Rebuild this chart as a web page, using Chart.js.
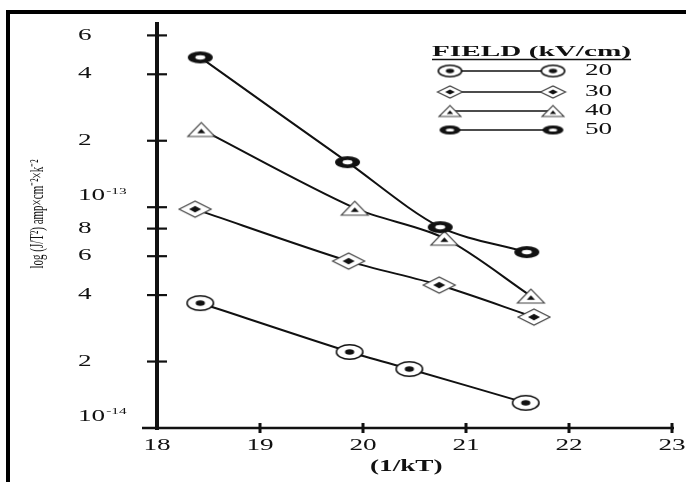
<!DOCTYPE html>
<html>
<head>
<meta charset="utf-8">
<title>log(J/T²) vs 1/kT</title>
<script src="https://cdn.jsdelivr.net/npm/chart.js@4.4.1/dist/chart.umd.min.js"></script>
<style>
  html, body { margin: 0; padding: 0; background: #ffffff; }
  #wrap { width: 686px; height: 482px; }
</style>
</head>
<body>
<div id="wrap"><canvas id="chart" width="686" height="482"></canvas></div>
<script>
// ---- data: log(J/T²) against 1/kT for four applied fields ----
const fieldLabels = ['20', '30', '40', '50'];

const invKT20 = [18.42, 19.87, 20.45, 21.58];
const current20 = [3.68e-14, 2.21e-14, 1.85e-14, 1.30e-14];

const invKT30 = [18.37, 19.86, 20.74, 21.66];
const current30 = [9.8e-14, 5.7e-14, 4.44e-14, 3.18e-14];

const invKT40 = [18.43, 19.92, 20.79, 21.63];
const current40 = [2.25e-13, 9.9e-14, 7.24e-14, 3.96e-14];

const invKT50 = [18.42, 19.85, 20.75, 21.59];
const current50 = [4.77e-13, 1.60e-13, 8.12e-14, 6.26e-14];

// ---- axis ticks and titles ----
const xTickValues = [18, 19, 20, 21, 22, 23];
const xTickLabels = ['18', '19', '20', '21', '22', '23'];
const yTickValues = [1e-14, 2e-14, 4e-14, 6e-14, 8e-14, 1e-13, 2e-13, 4e-13, 6e-13];
const yTickMantissas = ['10', '2', '4', '6', '8', '10', '2', '4', '6'];
const yTickExponents = ['-14', '', '', '', '', '-13', '', '', ''];
const xTitle = '(1/kT)';
const yTitle = 'log (J/T²) amp×cm⁻²×k⁻²';
const legendTitle = 'FIELD (kV/cm)';

const SERIF = '"Liberation Serif", "Times New Roman", serif';
const INK = '#111111';
const STRETCH = 1.7;   // the whole figure is typeset wide

// ---- marker sprites ----
function sprite(w, h, paint) {
  const c = document.createElement('canvas');
  c.width = w + 4; c.height = h + 4;
  const g = c.getContext('2d');
  g.translate(c.width / 2, c.height / 2);
  paint(g, w / 2, h / 2);
  return c;
}
function ellipse(g, rx, ry) { g.beginPath(); g.ellipse(0, 0, rx, ry, 0, 0, Math.PI * 2); }

function dotCircle(w, h) {
  return sprite(w, h, (g, rx, ry) => {
    ellipse(g, rx - 0.8, ry - 0.8); g.fillStyle = '#fff'; g.fill();
    g.lineWidth = 1.6; g.strokeStyle = INK; g.stroke();
    ellipse(g, rx * 0.33, ry * 0.33); g.fillStyle = INK; g.fill();
  });
}
function dotDiamond(w, h) {
  return sprite(w, h, (g, rx, ry) => {
    g.beginPath(); g.moveTo(-rx, 0); g.lineTo(0, -ry); g.lineTo(rx, 0); g.lineTo(0, ry); g.closePath();
    g.fillStyle = '#fff'; g.fill(); g.lineWidth = 1.2; g.strokeStyle = '#444'; g.stroke();
    const a = rx * 0.38, b = ry * 0.42;
    g.beginPath(); g.moveTo(-a, 0); g.lineTo(0, -b); g.lineTo(a, 0); g.lineTo(0, b); g.closePath();
    g.fillStyle = INK; g.fill();
  });
}
function dotTriangle(w, h) {
  return sprite(w, h, (g, rx, ry) => {
    g.beginPath(); g.moveTo(-rx, ry); g.lineTo(0, -ry); g.lineTo(rx, ry); g.closePath();
    g.fillStyle = '#fff'; g.fill(); g.lineWidth = 1.1; g.strokeStyle = '#444'; g.stroke();
    g.beginPath(); g.moveTo(-rx * 0.3, ry * 0.55); g.lineTo(0, -ry * 0.1); g.lineTo(rx * 0.3, ry * 0.55); g.closePath();
    g.fillStyle = INK; g.fill();
  });
}
function boldRing(w, h) {
  return sprite(w, h, (g, rx, ry) => {
    ellipse(g, rx, ry); g.fillStyle = INK; g.fill();
    ellipse(g, rx * 0.4, ry * 0.36); g.fillStyle = '#fff'; g.fill();
  });
}

const plotMarkers = [dotCircle(28, 16), dotDiamond(32, 16), dotTriangle(27, 14), boldRing(25, 12)];
const legendMarkers = [dotCircle(25, 13), dotDiamond(25, 12), dotTriangle(22, 11), boldRing(21, 9)];

// ---- text helper (horizontally stretched serif) ----
function wideText(ctx, str, x, y, size, opt = {}) {
  const sx = opt.sx || STRETCH;
  ctx.save();
  ctx.font = (opt.bold ? 'bold ' : '') + size + 'px ' + SERIF;
  ctx.textBaseline = 'middle';
  ctx.textAlign = 'left';
  const w = ctx.measureText(str).width * sx;
  let left = x;
  if (opt.align === 'center') left = x - w / 2;
  else if (opt.align === 'right') left = x - w;
  ctx.translate(left, y);
  ctx.scale(sx, 1);
  ctx.fillStyle = INK;
  ctx.fillText(str, 0, 0);
  ctx.restore();
  return { left, width: w };
}

// ---- frame, axes, ticks and titles ----
const axesPlugin = {
  id: 'axesPlugin',
  beforeDatasetsDraw(chart) {
    const { ctx, scales: { x, y } } = chart;
    const x0 = x.getPixelForValue(18);
    const y0 = y.getPixelForValue(1e-14);
    ctx.save();
    ctx.fillStyle = '#000';
    // outer frame (top and left edges)
    ctx.fillRect(6, 10, 686, 4);
    ctx.fillRect(6, 10, 4, 482);

    ctx.strokeStyle = INK;
    ctx.lineCap = 'butt';
    // vertical axis
    ctx.lineWidth = 4;
    ctx.beginPath(); ctx.moveTo(x0, chart.chartArea.top); ctx.lineTo(x0, y0 + 2); ctx.stroke();
    // horizontal axis
    ctx.lineWidth = 2.5;
    ctx.beginPath(); ctx.moveTo(x0 - 15, y0); ctx.lineTo(x.getPixelForValue(23) + 2, y0); ctx.stroke();

    // y ticks cross the axis
    ctx.lineWidth = 2.2;
    yTickValues.forEach((v, i) => {
      const py = y.getPixelForValue(v);
      if (i > 0) { ctx.beginPath(); ctx.moveTo(x0 - 10, py); ctx.lineTo(x0 + 10, py); ctx.stroke(); }
      const isPow = yTickExponents[i] !== '';
      const ly = isPow ? py - 11 : py;
      const m = wideText(ctx, yTickMantissas[i], 78, ly, 16);
      if (isPow) wideText(ctx, yTickExponents[i], m.left + m.width + 1, ly - 5, 9);
    });

    // x ticks
    ctx.lineWidth = 3;
    xTickValues.forEach((v, i) => {
      const px = x.getPixelForValue(v);
      if (i > 0) { ctx.beginPath(); ctx.moveTo(px, y0 - 5); ctx.lineTo(px, y0 + 5); ctx.stroke(); }
      wideText(ctx, xTickLabels[i], px, y0 + 18, 16, { align: 'center' });
    });

    // axis titles
    wideText(ctx, xTitle, x.getPixelForValue(20.42), y0 + 39, 16, { align: 'center', bold: true });

    ctx.save();
    ctx.translate(38, 214);
    ctx.rotate(-Math.PI / 2);
    ctx.scale(1, STRETCH);
    ctx.font = '11px ' + SERIF;
    ctx.textAlign = 'center';
    ctx.textBaseline = 'middle';
    ctx.fillStyle = INK;
    ctx.fillText(yTitle, 0, 0);
    ctx.restore();

    ctx.restore();
  },
  afterDatasetsDraw(chart) {
    const { ctx } = chart;
    ctx.save();
    // legend heading, underlined
    const t = wideText(ctx, legendTitle, 432, 52, 15, { bold: true, sx: 1.95 });
    ctx.strokeStyle = INK; ctx.lineWidth = 1.3;
    ctx.beginPath(); ctx.moveTo(t.left, 59.5); ctx.lineTo(t.left + t.width, 59.5); ctx.stroke();

    const rows = [71, 92, 111, 130];
    chart.data.datasets.forEach((ds, i) => {
      const ry = rows[i];
      const xa = 450, xb = 553;
      ctx.strokeStyle = INK; ctx.lineWidth = 1.5;
      ctx.beginPath(); ctx.moveTo(xa, ry); ctx.lineTo(xb, ry); ctx.stroke();
      const mk = legendMarkers[i];
      ctx.drawImage(mk, xa - mk.width / 2, ry - mk.height / 2);
      ctx.drawImage(mk, xb - mk.width / 2, ry - mk.height / 2);
      wideText(ctx, ds.label, 585, ry, 16);
    });
    ctx.restore();
  }
};

function series(xs, ys) { return xs.map((v, i) => ({ x: v, y: ys[i] })); }

const seriesX = [invKT20, invKT30, invKT40, invKT50];
const seriesY = [current20, current30, current40, current50];

const datasets = fieldLabels.map((lab, i) => ({
  label: lab,
  data: series(seriesX[i], seriesY[i]),
  borderColor: INK,
  borderWidth: 2,
  tension: 0.3,
  fill: false,
  pointStyle: plotMarkers[i],
  pointRadius: 10,
  order: 4 - i
}));

new Chart(document.getElementById('chart'), {
  type: 'line',
  data: { datasets },
  options: {
    responsive: false,
    animation: false,
    devicePixelRatio: 1,
    layout: { padding: { top: 22, right: 14, left: 0, bottom: 0 } },
    plugins: { legend: { display: false }, tooltip: { enabled: false } },
    scales: {
      x: {
        type: 'linear', min: 18, max: 23,
        grid: { display: false }, border: { display: false },
        ticks: { display: false },
        afterFit(s) { s.height = 54; }
      },
      y: {
        type: 'logarithmic', min: 1e-14, max: 6.9e-13,
        grid: { display: false }, border: { display: false },
        ticks: { display: false },
        afterFit(s) { s.width = 157; }
      }
    },
    clip: false
  },
  plugins: [axesPlugin]
});
</script>
</body>
</html>
